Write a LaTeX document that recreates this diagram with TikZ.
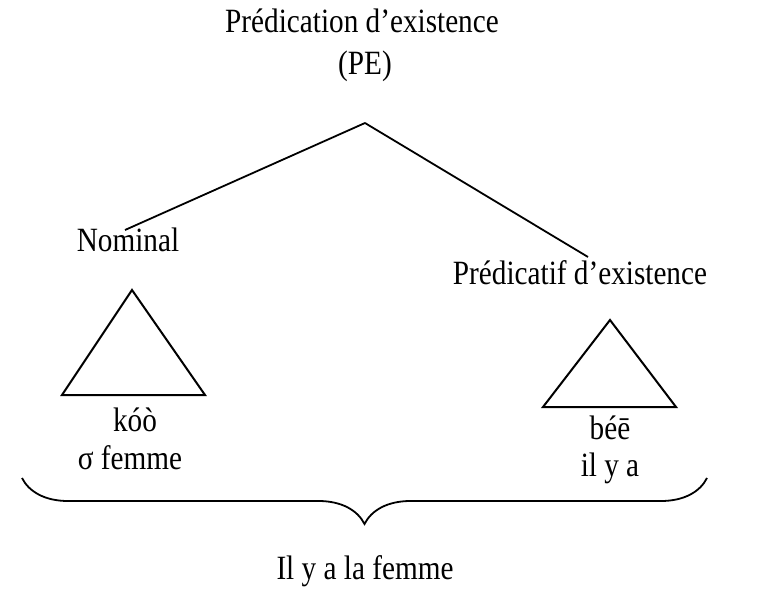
\documentclass[tikz,border=0pt]{standalone}
\usepackage{fontspec}
\setmainfont{Liberation Serif}[FakeStretch=0.86]
\usetikzlibrary{decorations.pathreplacing}
\tikzset{
  lbl/.style={inner sep=0pt, font=\fontsize{34}{36}\selectfont},
  tri/.style={line width=2pt, line join=miter}
}

\begin{document}
\begin{tikzpicture}[x=1pt, y=-1pt, line width=1.8pt]
  \useasboundingbox (0,0) rectangle (774,602);
  % Top label
  \node[lbl] (pe) at (362,21) {Prédication d’existence};
  \node[lbl] (peabbr) at (365,66) {(PE)};
  \coordinate (top) at (365,123);
  % Branch labels
  \node[lbl] (nom) at (128,240) {Nominal};
  \node[lbl] (pred) at (580,273) {Prédicatif d’existence};
  \coordinate (nomend) at (125,230);
  \coordinate (predend) at (588,257);
  % Branches
  \draw (top) -- (nomend);
  \draw (top) -- (predend);
  % Left triangle
  \coordinate (ltop) at (132,290);
  \coordinate (lleft) at (62,395);
  \coordinate (lright) at (205,395);
  \draw[tri] (ltop) -- (lleft) -- (lright) -- cycle;
  \node[lbl] (koo) at (135,420) {kóò};
  \node[lbl] (koogl) at (130,458) {σ femme};
  % Right triangle
  \coordinate (rtop) at (610,320);
  \coordinate (rleft) at (543,407);
  \coordinate (rright) at (676,407);
  \draw[tri] (rtop) -- (rleft) -- (rright) -- cycle;
  \node[lbl] (bee) at (610,428) {béē};
  \node[lbl] (beegl) at (610,468) {il y a};
  % Brace and gloss
  \coordinate (bl) at (22,478);
  \coordinate (br) at (707,478);
  \draw[decorate, decoration={brace, mirror, amplitude=46pt}] (bl) -- (br);
  \node[lbl] (gloss) at (365,571) {Il y a la femme};
\end{tikzpicture}
\end{document}
